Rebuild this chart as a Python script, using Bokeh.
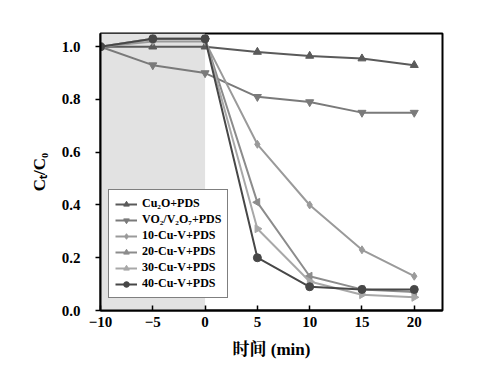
from bokeh.plotting import figure
from bokeh.models import BoxAnnotation, Legend, LegendItem, Range1d, FixedTicker, CustomJSTickFormatter
from bokeh.embed import file_html
from bokeh.resources import INLINE

time = [-10, -5, 0, 5, 10, 15, 20]
cu2o = [1.0, 1.0, 1.0, 0.98, 0.965, 0.955, 0.93]
vo2 = [1.0, 0.93, 0.90, 0.81, 0.79, 0.75, 0.75]
cuv10 = [1.0, 1.02, 1.02, 0.63, 0.40, 0.23, 0.13]
cuv20 = [1.0, 1.03, 1.03, 0.41, 0.13, 0.08, 0.07]
cuv30 = [1.0, 1.03, 1.03, 0.31, 0.11, 0.06, 0.05]
cuv40 = [1.0, 1.03, 1.03, 0.20, 0.09, 0.08, 0.08]
labels = ["Cu₂O+PDS", "VO₂/V₂O₇+PDS", "10-Cu-V+PDS", "20-Cu-V+PDS", "30-Cu-V+PDS", "40-Cu-V+PDS"]
series = [cu2o, vo2, cuv10, cuv20, cuv30, cuv40]
markers = ["triangle", "inverted_triangle", "diamond", "triangle", "triangle", "circle"]
angles = [0, 0, 0, 1.5708, -1.5708, 0]
colors = ["#5a5a5a", "#7a7a7a", "#9a9a9a", "#8c8c8c", "#a8a8a8", "#474747"]
dark_x = [-10, 0]

SERIF = "'Liberation Serif', 'Noto Serif CJK SC', 'Noto Sans CJK SC', serif"

p = figure(width=469, height=368, output_backend="svg", toolbar_location=None,
           x_range=Range1d(-10, 22.7), y_range=Range1d(0, 1.05),
           min_border_left=100, min_border_right=27, min_border_top=33, min_border_bottom=58)
p.grid.visible = False
p.outline_line_color = "black"
p.outline_line_width = 2

p.add_layout(BoxAnnotation(left=dark_x[0], right=dark_x[1], fill_color="#e2e2e2", fill_alpha=1.0,
                           line_color=None, level="underlay"))

items = []
for lab, ys, m, a, c in zip(labels, series, markers, angles, colors):
    r1 = p.line(time, ys, line_color=c, line_width=2)
    r2 = p.scatter(time, ys, marker=m, angle=a, angle_units="rad", size=8, fill_color=c, line_color=c)
    items.append(LegendItem(label=lab, renderers=[r1, r2]))

leg = Legend(items=items, location=(8, 12), background_fill_color="white", background_fill_alpha=1.0,
             label_text_font=SERIF, label_text_font_style="bold", label_text_color="black",
             label_text_font_size="12px", label_height=14, glyph_height=14, glyph_width=22,
             label_standoff=5, spacing=1, padding=6, margin=0,
             border_line_color="black", border_line_width=1)
p.add_layout(leg, "center")

for ax in (p.xaxis[0], p.yaxis[0]):
    ax.axis_line_width = 2
    ax.axis_line_color = "black"
    ax.major_tick_line_color = "black"
    ax.major_label_text_color = "black"
    ax.axis_label_text_color = "black"
    ax.major_label_text_font = SERIF
    ax.major_label_text_font_style = "bold"
    ax.major_label_text_font_size = "15px"
    ax.axis_label_text_font = SERIF
    ax.axis_label_text_font_style = "bold"
    ax.axis_label_text_font_size = "17px"
    ax.minor_tick_line_color = None
    ax.major_tick_line_width = 1.5

p.xaxis.ticker = FixedTicker(ticks=time)
p.xaxis.major_tick_in = 5
p.xaxis.major_tick_out = 0
p.xaxis.major_label_standoff = 6
p.xaxis.axis_label_standoff = 10
p.xaxis.axis_label = "时间 (min)"
p.yaxis.ticker = FixedTicker(ticks=[0.0, 0.2, 0.4, 0.6, 0.8, 1.0])
p.yaxis.formatter = CustomJSTickFormatter(code="return tick.toFixed(1);")
p.yaxis.major_tick_in = 0
p.yaxis.major_tick_out = 5
p.yaxis.major_label_standoff = 15
p.yaxis.axis_label_standoff = 10
p.yaxis.axis_label = "Cₜ/C₀"

open("out.html", "w").write(file_html(p, INLINE))
